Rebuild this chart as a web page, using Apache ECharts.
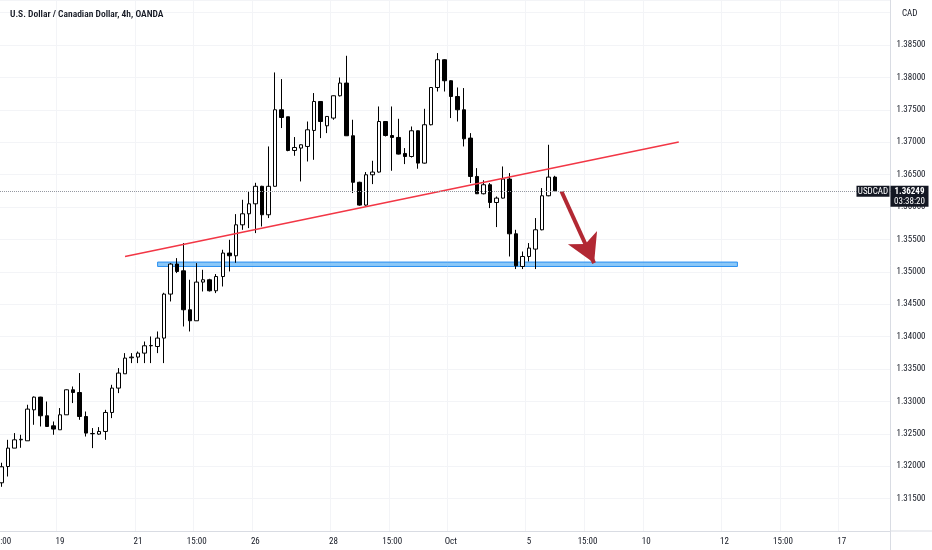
<!DOCTYPE html>
<html>
<head>
<meta charset="utf-8">
<script src="https://cdn.jsdelivr.net/npm/echarts@6.0.0/dist/echarts.min.js"></script>
<style>
html,body{margin:0;padding:0;background:#fff;}
#chart{width:932px;height:550px;}
</style>
</head>
<body>
<div id="chart"></div>
<script>
// ---- data ----
const tradingDays = ['Sep 15','Sep 16','Sep 19','Sep 20','Sep 21','Sep 22','Sep 23','Sep 26','Sep 27','Sep 28','Sep 29','Sep 30','Oct 3','Oct 4','Oct 5','Oct 6','Oct 7','Oct 10','Oct 11','Oct 12','Oct 13','Oct 14','Oct 17','Oct 18'];
const slotTimes = ['23:00','03:00','07:00','11:00','15:00','19:00'];
const firstSlot = 4;      // series starts at Sep 15 15:00
const slotCount = 137;    // visible time slots incl. future space

const tickLabels = {
  'Sep 15 15:00':'15:00','Sep 19 03:00':'19','Sep 21 03:00':'21','Sep 22 15:00':'15:00',
  'Sep 26 03:00':'26','Sep 28 03:00':'28','Sep 29 15:00':'15:00','Oct 3 03:00':'Oct',
  'Oct 5 03:00':'5','Oct 6 15:00':'15:00','Oct 10 03:00':'10','Oct 12 03:00':'12',
  'Oct 13 15:00':'15:00','Oct 17 03:00':'17'
};

const opens = [1.31744,1.31995,1.32279,1.32407,1.32392,1.32870,1.33066,1.32778,1.32623,1.32562,
1.32793,1.33179,1.33137,1.32767,1.32500,1.32495,1.32536,1.32829,1.33205,1.33426,
1.33673,1.33684,1.33745,1.33858,1.33847,1.33977,1.34656,1.35119,1.35015,1.34414,
1.34244,1.34841,1.34877,1.34707,1.34927,1.35289,1.35247,1.35725,1.35895,1.36049,
1.36319,1.35880,1.36319,1.37500,1.37392,1.36872,1.36909,1.36934,1.37181,1.37628,
1.37253,1.37372,1.37716,1.37912,1.37099,1.36381,1.36029,1.36497,1.36539,1.37319,
1.37103,1.37073,1.36826,1.36779,1.37176,1.36677,1.37269,1.37844,1.38272,1.37948,
1.37705,1.37500,1.37063,1.36471,1.36204,1.36343,1.36069,1.36137,1.36431,1.35586,
1.35082,1.35236,1.35350,1.35648,1.36173,1.36461];

const closes = [1.31991,1.32279,1.32407,1.32415,1.32881,1.33066,1.32778,1.32613,1.32573,1.32793,
1.33179,1.33137,1.32767,1.32511,1.32505,1.32536,1.32829,1.33205,1.33437,1.33668,
1.33684,1.33745,1.33858,1.33863,1.33977,1.34656,1.35119,1.35005,1.34414,1.34244,
1.34841,1.34877,1.34707,1.34927,1.35289,1.35247,1.35725,1.35895,1.36049,1.36319,
1.35880,1.36319,1.37500,1.37381,1.36872,1.36918,1.36960,1.37191,1.37628,1.37319,
1.37397,1.37716,1.37912,1.37099,1.36381,1.36029,1.36497,1.36539,1.37319,1.37103,
1.37073,1.36816,1.36779,1.37176,1.36677,1.37269,1.37844,1.38272,1.37948,1.37705,
1.37500,1.37053,1.36471,1.36204,1.36343,1.36069,1.36137,1.36431,1.35586,1.35093,
1.35236,1.35366,1.35648,1.36173,1.36461,1.36249];

const lows = [1.31682,1.31841,1.32279,1.32284,1.32392,1.32639,1.32613,1.32608,1.32485,1.32562,
1.32793,1.32974,1.32716,1.32458,1.32279,1.32485,1.32407,1.32742,1.33128,1.33426,
1.33591,1.33591,1.33591,1.33591,1.33745,1.33591,1.34542,1.34980,1.34156,1.34079,
1.34244,1.34696,1.34696,1.34671,1.34773,1.35005,1.35139,1.35648,1.35674,1.35597,
1.35699,1.35829,1.36316,1.37218,1.36860,1.36790,1.36394,1.36702,1.36728,1.37063,
1.37140,1.37346,1.37705,1.37095,1.36215,1.36020,1.36020,1.36353,1.36530,1.37088,
1.36559,1.36810,1.36662,1.36764,1.36590,1.36670,1.37260,1.37782,1.37782,1.37372,
1.37319,1.36934,1.36369,1.36200,1.36195,1.35983,1.35690,1.36130,1.35236,1.35042,
1.35042,1.35159,1.35042,1.35640,1.36165,1.36240];

const highs = [1.32053,1.32407,1.32511,1.32485,1.32948,1.33076,1.33071,1.32998,1.32690,1.32897,
1.33185,1.33230,1.33437,1.32844,1.32588,1.32603,1.32870,1.33256,1.33514,1.33745,
1.33745,1.33770,1.33924,1.34002,1.34079,1.34676,1.35134,1.35211,1.35443,1.34877,
1.35134,1.35031,1.34892,1.34965,1.35340,1.35494,1.35890,1.36111,1.36239,1.36373,
1.36327,1.36934,1.38076,1.37974,1.37392,1.37079,1.36965,1.37319,1.37758,1.37635,
1.37400,1.37720,1.37998,1.38333,1.37346,1.36390,1.36539,1.36713,1.37551,1.37325,
1.37551,1.37361,1.36909,1.37242,1.37180,1.37515,1.37850,1.38375,1.38280,1.37955,
1.37844,1.37835,1.37140,1.36600,1.36412,1.36369,1.36162,1.36625,1.36523,1.35648,
1.35313,1.35443,1.35829,1.36292,1.36960,1.36481];

// annotations in data coords [slot index, price]
const trendLine = [[18.8, 1.35236], [104.2, 1.37002]];
const supportZone = [[23.86, 1.35150], [113.28, 1.35082]];
const arrowLine = [[86.0, 1.36239], [91.1, 1.35134]];
const countdown = '03:38:20';
const symbolName = 'USDCAD';

// ---- build ----
const categories = [];
tradingDays.forEach((d, di) => {
  slotTimes.forEach((t, ti) => {
    if (di === 0 && ti < firstSlot) return;
    categories.push(d + ' ' + t);
  });
});
categories.length = slotCount;

const candleData = opens.map((o, i) => [o, closes[i], lows[i], highs[i]]);
const lastClose = closes[closes.length - 1];

const FONT = "'Liberation Sans Narrow','Roboto Condensed','Liberation Sans',Arial,sans-serif";
const TXT = '#131722';
const GRID_RIGHT = 41.5;
const GRID_BOTTOM = 19;
const AXIS_COLOR = '#d9dce3';

const chart = echarts.init(document.getElementById('chart'));
chart.setOption({
  animation: false,
  backgroundColor: '#ffffff',
  title: [
    {text: 'U.S. Dollar / Canadian Dollar, 4h, OANDA', left: 5, top: 5,
     textStyle: {fontFamily: FONT, fontSize: 9.5, fontWeight: 600, color: TXT}},
    {text: 'CAD', left: 897, top: 4,
     textStyle: {fontFamily: FONT, fontSize: 9, fontWeight: 'normal', color: TXT}}
  ],
  grid: {left: -2, right: GRID_RIGHT, top: 0, bottom: GRID_BOTTOM, outerBoundsMode: 'none', containLabel: false},
  xAxis: {
    type: 'category',
    data: categories,
    boundaryGap: true,
    axisLine: {show: true, lineStyle: {color: AXIS_COLOR, width: 1}},
    axisTick: {show: false},
    axisLabel: {
      interval: (idx, val) => tickLabels[val] !== undefined,
      formatter: (val) => tickLabels[val] || '',
      fontFamily: FONT, fontSize: 9, color: TXT, margin: 6
    },
    splitLine: {show: true, interval: (idx, val) => tickLabels[val] !== undefined,
      lineStyle: {color: '#f3f4f7', width: 1}}
  },
  yAxis: {
    type: 'value',
    position: 'right',
    min: 1.31, max: 1.39194, interval: 0.005,
    scale: true,
    axisLine: {show: true, lineStyle: {color: AXIS_COLOR, width: 1}},
    axisTick: {show: false},
    axisLabel: {
      fontFamily: FONT, fontSize: 9, color: TXT, margin: 6,
      formatter: (v) => (v < 1.3125 || v > 1.3875) ? '' : v.toFixed(5)
    },
    splitLine: {show: true, lineStyle: {color: '#f3f4f7', width: 1}}
  },
  series: [{
    type: 'candlestick',
    data: candleData,
    barWidth: 4,
    itemStyle: {
      color: '#ffffff', color0: '#000000',
      borderColor: '#000000', borderColor0: '#000000', borderWidth: 1
    },
    markArea: {
      silent: true,
      itemStyle: {color: 'rgba(100,181,246,0.75)', borderColor: '#2a8ff0', borderWidth: 1},
      data: [[{coord: supportZone[0]}, {coord: supportZone[1]}]]
    },
    markLine: {
      silent: true,
      precision: 5,
      symbol: ['none', 'none'],
      label: {show: false},
      data: [
        [{coord: trendLine[0], lineStyle: {color: '#f23645', width: 1.5, type: 'solid'}}, {coord: trendLine[1]}],
        [{coord: arrowLine[0], lineStyle: {color: '#b22833', width: 4, type: 'solid'}},
         {coord: arrowLine[1], symbol: 'arrow', symbolSize: [24, 28]}],
        {yAxis: lastClose, lineStyle: {color: '#9598a1', width: 1, type: 'dotted'}}
      ]
    }
  }]
});

// price tags positioned through the axis scale
const yPix = chart.convertToPixel({yAxisIndex: 0}, lastClose);
const axisX = chart.getWidth() - GRID_RIGHT;
const axisY = chart.getHeight() - GRID_BOTTOM;
chart.setOption({
  graphic: [
    // axis frame continuation into the price-scale corner
    {type: 'line', z: 1, shape: {x1: axisX, y1: axisY, x2: chart.getWidth(), y2: axisY},
     style: {stroke: AXIS_COLOR, lineWidth: 1}},
    {type: 'line', z: 1, shape: {x1: axisX, y1: axisY, x2: axisX, y2: chart.getHeight()},
     style: {stroke: AXIS_COLOR, lineWidth: 1}},
    {type: 'rect', z: 100, shape: {x: axisX - 34, y: yPix - 5, width: 33, height: 11},
     style: {fill: TXT}},
    {type: 'text', z: 101, x: axisX - 17.5, y: yPix + 0.5,
     style: {text: symbolName, fill: '#fff', font: "9px " + FONT, align: 'center', verticalAlign: 'middle'}},
    {type: 'rect', z: 100, shape: {x: axisX, y: yPix - 5, width: 38, height: 21},
     style: {fill: TXT}},
    {type: 'text', z: 101, x: axisX + 19, y: yPix + 0.5,
     style: {text: lastClose.toFixed(5), fill: '#fff', font: "bold 9px " + FONT, align: 'center', verticalAlign: 'middle'}},
    {type: 'text', z: 101, x: axisX + 19, y: yPix + 10.5,
     style: {text: countdown, fill: '#fff', font: "9px " + FONT, align: 'center', verticalAlign: 'middle'}}
  ]
});
</script>
</body>
</html>
